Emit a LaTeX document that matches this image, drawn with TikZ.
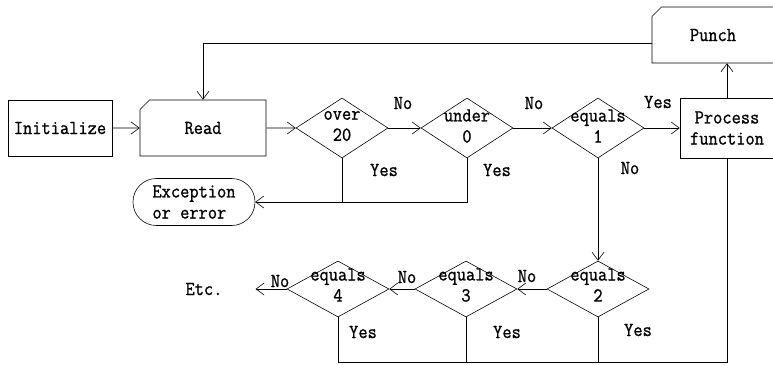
\documentclass[tikz,border=0pt]{standalone}
\usepackage{fontspec}
\setmonofont{Latin Modern Mono}[FakeStretch=0.9, FakeBold=1]
\usetikzlibrary{shapes.geometric,shapes.misc,arrows.meta}

\begin{document}
\begin{tikzpicture}[x=0.3mm, y=-0.3mm, line width=0.5pt,
    font=\ttfamily\fontsize{17}{18}\selectfont,
    >={Straight Barb[length=2.4mm,width=3.6mm]},
    box/.style={draw, inner sep=0pt, minimum height=16.8mm},
    card/.style={draw, chamfered rectangle, chamfered rectangle corners=north west,
        chamfered rectangle xsep=2.6mm, inner sep=0pt, minimum height=16.8mm},
    term/.style={draw, rounded corners=7mm, inner sep=0pt, minimum height=14.1mm, align=left},
    test/.style={draw, diamond, inner sep=0pt, minimum width=27.6mm, minimum height=18mm},
    testlow/.style={test, minimum width=30.6mm, minimum height=16.8mm},
    txt/.style={align=center, inner sep=0pt}]
    \useasboundingbox (0,0) rectangle (773,365);
    \clip (0,0) rectangle (773,365);
    % caixas
    \node[box, minimum width=31.2mm] (init) at (60,128) {Initialize};
    \node[card, minimum width=37.8mm] (read) at (203,128) {Read};
    \node[card, minimum width=36.6mm] (punch) at (713,35) {Punch};
    \node[box, minimum width=28.2mm, minimum height=18mm, align=center] (proc) at (727,128) {Process\\function};
    \node[term, minimum width=36.6mm] (exc) at (194,202) {Exception\\or error};
    \node (etc) at (204,289) {Etc.};
    % testes
    \node[test] (over) at (342,128) {};
    \node[test] (under) at (467,128) {};
    \node[test] (eq1) at (598,128) {};
    \node[testlow] (eq2) at (598,289) {};
    \node[testlow] (eq3) at (466,289) {};
    \node[testlow] (eq4) at (338,289) {};
    \node[txt] (overtxt) at ([yshift=0.6mm]over) {over\\20};
    \node[txt] (undertxt) at ([yshift=0.6mm]under) {under\\0};
    \node[txt] (eq1txt) at ([yshift=0.6mm]eq1) {equals\\1};
    \node[txt] (eq2txt) at ([yshift=1.2mm]eq2) {equals\\2};
    \node[txt] (eq3txt) at ([yshift=1.2mm]eq3) {equals\\3};
    \node[txt] (eq4txt) at ([yshift=1.2mm]eq4) {equals\\4};
    % ligacoes
    \draw[->] (init) -- (read);
    \draw[->] (read) -- (over);
    \draw[->] (over) -- (under);
    \draw[->] (under) -- (eq1);
    \draw[->] (eq1) -- (proc);
    \draw[->] (proc.north) -- (proc.north |- punch.south);
    \draw[->] ([yshift=-2.4mm]punch.west) -| (read.north);
    \draw[->] (under.south) |- (exc.east);
    \draw (over.south) -- (over.south |- exc.east);
    \draw[->] (eq1) -- (eq2);
    \draw[->] (eq2) -- (eq3);
    \draw[->] (eq3) -- (eq4);
    \draw[->, shorten >=8.7mm] (eq4) -- (etc);
    \draw (eq4.south) -- ++(0,45) coordinate (ret) -| (proc.south);
    \draw (eq3.south) -- (eq3.south |- ret);
    \draw (eq2.south) -- (eq2.south |- ret);
    % respostas
    \node (no1) at (403,103) {No};
    \node (no2) at (534,103) {No};
    \node (yes1) at (658,102) {Yes};
    \node (yes2) at (384,170) {Yes};
    \node (yes3) at (497,170) {Yes};
    \node (no3) at (630,168) {No};
    \node (no4) at (527,276) {No};
    \node (no5) at (407,277) {No};
    \node (no6) at (280,281) {No};
    \node (yes4) at (363,332) {Yes};
    \node (yes5) at (507,332) {Yes};
    \node (yes6) at (638,330) {Yes};
\end{tikzpicture}
\end{document}
